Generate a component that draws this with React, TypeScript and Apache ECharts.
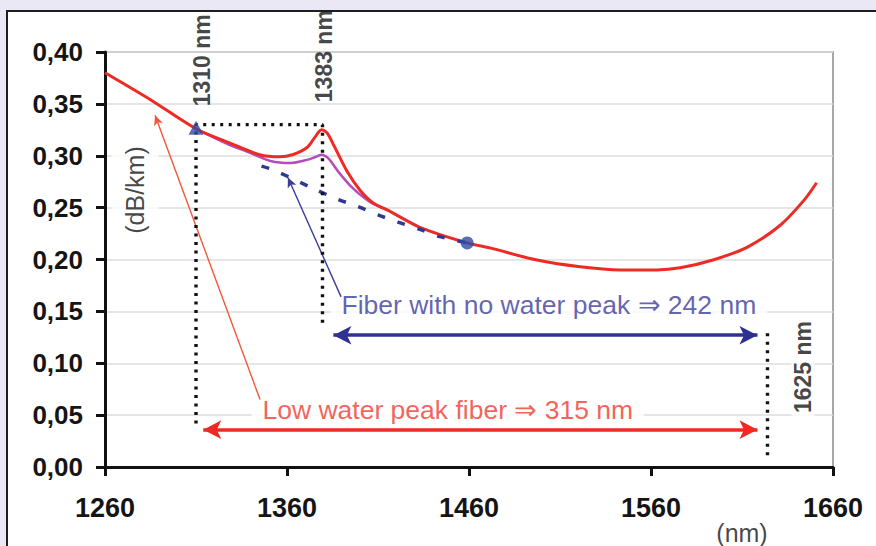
import React, { useEffect, useRef } from "react";
import * as echarts from "echarts";

// ---- data ----
const lowWaterNm = [1260, 1285, 1310, 1329, 1345, 1356, 1363, 1371, 1375, 1379, 1382, 1386, 1393, 1400, 1407, 1417, 1433, 1459, 1472, 1496, 1521, 1543, 1563, 1576, 1594, 1613, 1631, 1644, 1651];
const lowWaterDb = [0.380, 0.354, 0.326, 0.312, 0.301, 0.299, 0.301, 0.308, 0.317, 0.325, 0.322, 0.309, 0.285, 0.267, 0.255, 0.246, 0.231, 0.216, 0.211, 0.200, 0.193, 0.190, 0.190, 0.192, 0.1995, 0.212, 0.233, 0.257, 0.274];

const reducedNm = [1310, 1329, 1338, 1351, 1362, 1371, 1376, 1379, 1383, 1388, 1396, 1406, 1417, 1433];
const reducedDb = [0.326, 0.310, 0.304, 0.295, 0.293, 0.296, 0.299, 0.301, 0.297, 0.285, 0.269, 0.255, 0.246, 0.231];

const noPeakNm = [1346, 1353, 1375, 1388, 1399, 1410, 1421, 1433, 1444, 1459];
const noPeakDb = [0.290, 0.286, 0.268, 0.258, 0.251, 0.243, 0.236, 0.229, 0.222, 0.216];

const triangleMark = [1310, 0.327];
const circleMark = [1459, 0.216];

// dotted guide lines
const guide1Nm = [1310, 1310, 1379.5, 1379.5];
const guide1Db = [0.042, 0.33, 0.33, 0.135];
const guide2Nm = [1624, 1624];
const guide2Db = [0.129, 0.009];

// band arrows
const blueBand = [[1385.5, 0.127], [1618.5, 0.127]];
const redBand = [[1314, 0.036], [1618.5, 0.036]];
// pointer arrows [from, to]
const bluePointer = [[1389.7, 0.164], [1360.5, 0.279]];
const redPointer = [[1345.2, 0.065], [1287.5, 0.339]];

const X_MIN = 1260, X_MAX = 1660, X_STEP = 100;
const Y_MIN = 0, Y_MAX = 0.4, Y_STEP = 0.05;

const FONT = '"Liberation Sans", Arial, Helvetica, sans-serif';

const pair = (xs: number[], ys: number[]) => xs.map((x, i) => [x, ys[i]]);

export default function App() {
  const ref = useRef<HTMLDivElement>(null);
  useEffect(() => {
    const chart = echarts.init(ref.current!, null, { renderer: "svg" });

    const arrowSeries = (name: string, pts: number[][], color: string, width: number, sym: any, size: any) => ({
      name,
      type: "line",
      data: [],
      silent: true,
      z: 6,
      markLine: {
        silent: true,
        animation: false,
        symbol: sym,
        symbolSize: size,
        label: { show: false },
        emphasis: { disabled: true },
        lineStyle: { color, width, type: "solid", opacity: 1 },
        data: [[{ coord: pts[0] }, { coord: pts[1] }]],
      },
    });

    const textItem = (name: string, value: number[], label: any) => ({ name, value, label });

    const dotted = { color: "#111", width: 3.4, type: [3, 5.5], cap: "butt" };

    const option: any = {
      animation: false,
      backgroundColor: "#EAE8F4",
      graphic: [
        {
          type: "rect",
          z: -10,
          shape: { x: 7, y: 11, width: 900, height: 600 },
          style: { fill: "#ffffff", stroke: "#1e1e1e", lineWidth: 2 },
        },
      ],
      grid: {
        left: 105,
        right: 43,
        top: 52,
        bottom: 79,
        show: true,
        borderColor: "#a8a8a8",
        borderWidth: 2,
        backgroundColor: "transparent",
      },
      xAxis: {
        type: "value",
        min: X_MIN,
        max: X_MAX,
        interval: X_STEP,
        axisLine: { show: true, onZero: false, lineStyle: { color: "#111", width: 3 } },
        axisTick: { show: true, length: 9, lineStyle: { color: "#111", width: 3 } },
        axisLabel: {
          color: "#151515",
          fontFamily: FONT,
          fontWeight: "bold",
          fontSize: 27,
          margin: 27,
          formatter: (v: number) => String(v),
        },
        splitLine: { show: false },
      },
      yAxis: {
        type: "value",
        min: Y_MIN,
        max: Y_MAX,
        interval: Y_STEP,
        axisLine: { show: true, lineStyle: { color: "#111", width: 3 } },
        axisTick: { show: true, length: 9, lineStyle: { color: "#111", width: 3 } },
        axisLabel: {
          color: "#151515",
          fontFamily: FONT,
          fontWeight: "bold",
          fontSize: 26,
          margin: 22,
          formatter: (v: number) => v.toFixed(2).replace(".", ","),
        },
        splitLine: { show: true, lineStyle: { color: "#dcdcdc", width: 1.5 } },
      },
      series: [
        {
          name: "labels",
          type: "scatter",
          clip: false,
          silent: true,
          z: 3,
          symbolSize: 1,
          itemStyle: { color: "rgba(0,0,0,0)" },
          label: {
            show: true,
            formatter: (p: any) => p.name,
            fontFamily: FONT,
          },
          data: [
            textItem("Low water peak fiber \u21D2 315 nm", [1340.2, 0.055], {
              position: "right", distance: 0, align: "left", verticalAlign: "middle",
              color: "#EE3B2E", fontSize: 26.5, backgroundColor: "#ffffff", padding: [5, 11],
            }),
            textItem("Fiber with no water peak \u21D2 242 nm", [1383.6, 0.156], {
              position: "right", distance: 0, align: "left", verticalAlign: "middle",
              color: "#3B3C9C", fontSize: 26.5, backgroundColor: "#ffffff", padding: [5, 11],
            }),
            textItem("1310 nm", [1313.3, 0.392], {
              position: "inside", rotate: 90, align: "center", verticalAlign: "middle",
              color: "#151515", fontSize: 23, fontWeight: "bold",
            }),
            textItem("1383 nm", [1380.3, 0.396], {
              position: "inside", rotate: 90, align: "center", verticalAlign: "middle",
              color: "#151515", fontSize: 23, fontWeight: "bold",
            }),
            textItem("1625 nm", [1643.5, 0.0964], {
              position: "inside", rotate: 90, align: "center", verticalAlign: "middle",
              color: "#151515", fontSize: 23, fontWeight: "bold", backgroundColor: "#ffffff", padding: [0, 4],
            }),
            textItem("(dB/km)", [1276.5, 0.267], {
              position: "inside", rotate: 90, align: "center", verticalAlign: "middle",
              color: "#151515", fontSize: 25, backgroundColor: "#ffffff", padding: [11, 4],
            }),
            textItem("(nm)", [1610, -0.0636], {
              position: "inside", align: "center", verticalAlign: "middle",
              color: "#151515", fontSize: 25,
            }),
          ],
        },
        {
          name: "reduced water peak",
          type: "line",
          data: pair(reducedNm, reducedDb),
          smooth: 0.3,
          showSymbol: false,
          z: 4,
          lineStyle: { color: "#B44DBA", width: 2.5 },
        },
        {
          name: "low water peak",
          type: "line",
          data: pair(lowWaterNm, lowWaterDb),
          smooth: 0.3,
          showSymbol: false,
          z: 5,
          lineStyle: { color: "#EE2A24", width: 3 },
        },
        {
          name: "no water peak",
          type: "line",
          data: pair(noPeakNm, noPeakDb),
          smooth: 0.3,
          showSymbol: false,
          z: 5,
          lineStyle: { color: "#2E3A92", width: 3.5, type: [8, 13] },
        },
        {
          name: "guide1",
          type: "line",
          data: pair(guide1Nm, guide1Db),
          showSymbol: false,
          z: 6,
          lineStyle: dotted,
        },
        {
          name: "guide2",
          type: "line",
          data: pair(guide2Nm, guide2Db),
          showSymbol: false,
          z: 6,
          lineStyle: dotted,
        },
        arrowSeries("blueBand", blueBand, "#2E3192", 3.5, ["arrow", "arrow"], [14, 18]),
        arrowSeries("redBand", redBand, "#EE2A24", 3.5, ["arrow", "arrow"], [14, 18]),
        arrowSeries("bluePointer", bluePointer, "#3B3C9C", 1.4, ["none", "arrow"], [7, 10]),
        arrowSeries("redPointer", redPointer, "#F0583C", 1.4, ["none", "arrow"], [7, 10]),
        {
          name: "markers",
          type: "scatter",
          z: 7,
          silent: true,
          data: [
            { value: triangleMark, symbol: "triangle", symbolSize: [15, 14] },
            { value: circleMark, symbol: "circle", symbolSize: 13 },
          ],
          itemStyle: { color: "#2E4BA6" },
        },
      ],
    };

    chart.setOption(option);
    return () => chart.dispose();
  }, []);

  return (
    <div
      ref={ref}
      style={{ position: "absolute", left: 0, top: 0, width: 876, height: 546 }}
    />
  );
}
